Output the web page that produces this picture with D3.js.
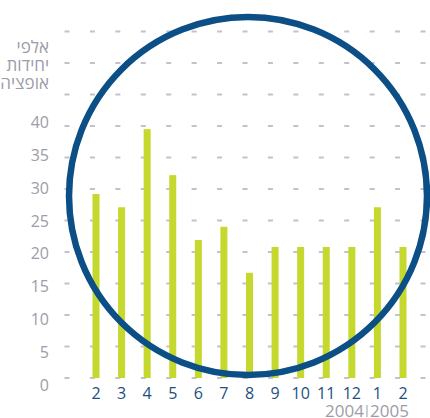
<!DOCTYPE html>
<html>
<head>
<meta charset="utf-8">
<script src="https://cdn.jsdelivr.net/npm/d3@7"></script>
<style>
  body { margin: 0; background: #fff; }
  svg text { font-family: "Open Sans", "Noto Sans", sans-serif; }
</style>
</head>
<body>
<div id="chart"></div>
<script>
// months, Feb 2004 .. Feb 2005
const monthLabels = ["2", "3", "4", "5", "6", "7", "8", "9", "10", "11", "12", "1", "2"];
const optionUnits = [29.2, 27.1, 39.5, 32.2, 21.9, 24.0, 16.7, 20.8, 20.8, 20.8, 20.8, 27.1, 20.8];
const yTicks = [0, 5, 10, 15, 20, 25, 30, 35, 40];
const gridValues = [0, 5, 10, 15, 20, 25, 30, 35, 40, 45, 50, 55];
const titleLines = ["אלפי", "יחידות", "אופציה"];
const years = ["2004", "2005"];

const width = 430, height = 418;

const svg = d3.select("#chart")
  .append("svg")
    .attr("width", width)
    .attr("height", height);

// scales
const x = d3.scalePoint()
  .domain(d3.range(monthLabels.length))
  .range([96, 403]);

const y = d3.scaleLinear()
  .domain([0, 55])
  .range([378, 31.5]);

// tick labels sit on a slightly looser spacing than the grid
const yLabel = d3.scaleLinear()
  .domain([0, 40])
  .range([385, 122.5]);

// dashed grid rows
svg.append("g")
  .selectAll("line")
  .data(gridValues)
  .join("line")
    .attr("x1", 64.5)
    .attr("x2", 430)
    .attr("y1", d => y(d))
    .attr("y2", d => y(d))
    .attr("stroke", "#c2c1cd")
    .attr("stroke-width", 2)
    .attr("stroke-dasharray", "5 20.43");

// bars
const barW = 7;
svg.append("g")
  .selectAll("rect")
  .data(optionUnits)
  .join("rect")
    .attr("x", (d, i) => x(i) - barW / 2)
    .attr("y", d => y(d))
    .attr("width", barW)
    .attr("height", d => y(0) - y(d))
    .attr("fill", "#c4d82e");

// y tick labels
svg.append("g")
  .selectAll("text")
  .data(yTicks)
  .join("text")
    .attr("x", 49)
    .attr("y", d => yLabel(d))
    .attr("dy", "0.35em")
    .attr("text-anchor", "end")
    .attr("fill", "#9d9ca8")
    .style("font-size", "16px")
    .text(d => d);

// unit title (Hebrew)
svg.append("g")
  .selectAll("text")
  .data(titleLines)
  .join("text")
    .attr("x", 49)
    .attr("y", (d, i) => 53 + i * 18)
    .attr("text-anchor", "end")
    .attr("fill", "#9d9ca8")
    .style("font-size", "17px")
    .text(d => d);

// month labels
svg.append("g")
  .selectAll("text")
  .data(monthLabels)
  .join("text")
    .attr("x", (d, i) => x(i))
    .attr("y", 399)
    .attr("text-anchor", "middle")
    .attr("fill", "#1c4f80")
    .style("font-size", "16px")
    .text(d => d);

// years
const sepX = 367;
const yearG = svg.append("g").attr("fill", "#9d9ca8").style("font-size", "17px");
yearG.append("text")
  .attr("x", sepX - 3)
  .attr("y", 417)
  .attr("text-anchor", "end")
  .text(years[0]);
yearG.append("text")
  .attr("x", sepX + 3)
  .attr("y", 417)
  .attr("text-anchor", "start")
  .text(years[1]);
svg.append("line")
  .attr("x1", sepX).attr("x2", sepX)
  .attr("y1", 405).attr("y2", 417)
  .attr("stroke", "#9d9ca8")
  .attr("stroke-width", 1);

// big circle on top
svg.append("circle")
  .attr("cx", 248)
  .attr("cy", 196)
  .attr("r", 179)
  .attr("fill", "none")
  .attr("stroke", "#0b4f86")
  .attr("stroke-width", 6.5);
</script>
</body>
</html>
